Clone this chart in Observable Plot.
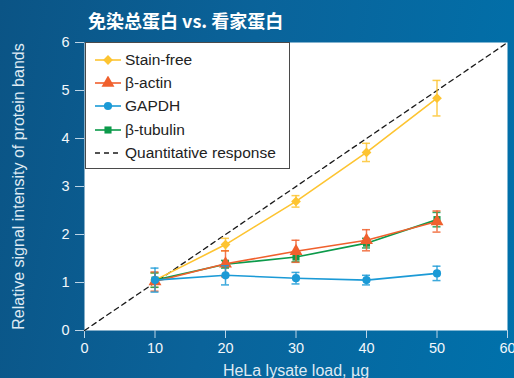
<!DOCTYPE html>
<html>
<head>
<meta charset="utf-8">
<script src="https://cdn.jsdelivr.net/npm/d3@7"></script>
<script src="https://cdn.jsdelivr.net/npm/@observablehq/plot@0.6"></script>
<style>
  body { margin: 0; }
  #chart {
    position: relative;
    width: 514px;
    height: 378px;
    overflow: hidden;
    background: linear-gradient(100deg, #0b5485 0%, #0a639a 45%, #0071ab 100%);
    font-family: "Liberation Sans", Arial, sans-serif;
  }
  #chart > svg { position: absolute; left: 0; top: 0; }
  #title {
    position: absolute;
    left: 88px;
    top: 7px;
    color: #ffffff;
    font: bold 18px "Noto Sans CJK SC", sans-serif;
    white-space: nowrap;
  }
  #legend {
    position: absolute;
    left: 85px;
    top: 42px;
    width: 203px;
    height: 120px;
    background: #ffffff;
    border: 1px solid #4a4a4a;
    padding-top: 5px;
    box-sizing: content-box;
  }
  .row {
    display: flex;
    align-items: center;
    height: 23.3px;
    font-size: 15.5px;
    color: #222;
    white-space: nowrap;
  }
  .row svg { display: block; margin-left: 8px; margin-right: 3px; }
</style>
</head>
<body>
<div id="chart">
  <div id="title"></div>
  <div id="legend"></div>
</div>
<script>
// HeLa lysate loads (µg) and mean relative band intensities with error bars
const loads = [10, 20, 30, 40, 50];

const stainFree = [1.05, 1.79, 2.69, 3.71, 4.84];
const stainFreeErr = [0.15, 0.13, 0.12, 0.19, 0.37];

const betaActin = [1.02, 1.39, 1.65, 1.88, 2.27];
const betaActinErr = [0.2, 0.27, 0.23, 0.22, 0.22];

const gapdh = [1.05, 1.15, 1.09, 1.05, 1.19];
const gapdhErr = [0.25, 0.2, 0.12, 0.1, 0.15];

const betaTubulin = [1.05, 1.38, 1.53, 1.82, 2.31];
const betaTubulinErr = [0.15, 0.08, 0.1, 0.1, 0.15];

// ideal proportional response: signal = load / 10
const responseLoads = [0, 60];
const responseValues = [0, 6];

const xTicks = [0, 10, 20, 30, 40, 50, 60];
const yTicks = [0, 1, 2, 3, 4, 5, 6];

const titleText = "免染总蛋白 vs. 看家蛋白";
const xLabel = "HeLa lysate load, µg";
const yLabel = "Relative signal intensity of protein bands";
const responseName = "Quantitative response";

const seriesNames = ["Stain-free", "β-actin", "GAPDH", "β-tubulin"];
const seriesColors = ["#fdc431", "#f0602d", "#1b9ad6", "#0c9a4a"];
const seriesSymbols = ["diamond2", "triangle", "circle", "square"];
const seriesRadius = [4.4, 4.8, 4.1, 4.0];
const seriesValues = [stainFree, betaActin, gapdh, betaTubulin];
const seriesErrors = [stainFreeErr, betaActinErr, gapdhErr, betaTubulinErr];

// long table: one row per series and load
const rows = seriesNames.flatMap((name, s) =>
  loads.map((x, i) => ({series: name, x, y: seriesValues[s][i], e: seriesErrors[s][i]}))
);
const response = responseLoads.map((x, i) => ({x, y: responseValues[i]}));

// drawing order: stain-free, tubulin, actin, GAPDH on top
const drawOrder = ["Stain-free", "β-tubulin", "β-actin", "GAPDH"];

const seriesMarks = drawOrder.flatMap(name => {
  const k = seriesNames.indexOf(name);
  const d = rows.filter(r => r.series === name);
  const c = seriesColors[k];
  return [
    Plot.line(d, {x: "x", y: "y", stroke: c, strokeWidth: 1.6}),
    Plot.ruleX(d, {x: "x", y1: r => r.y - r.e, y2: r => r.y + r.e, stroke: c, strokeWidth: 1.5, strokeOpacity: 0.85}),
    Plot.ruleY(d, {y: r => r.y + r.e, x1: "x", x2: "x", insetLeft: -4, insetRight: -4, stroke: c, strokeWidth: 1.5, strokeOpacity: 0.85}),
    Plot.ruleY(d, {y: r => r.y - r.e, x1: "x", x2: "x", insetLeft: -4, insetRight: -4, stroke: c, strokeWidth: 1.5, strokeOpacity: 0.85}),
    Plot.dot(d, {x: "x", y: "y", symbol: seriesSymbols[k], r: seriesRadius[k], fill: c, stroke: "none"})
  ];
});

const plot = Plot.plot({
  width: 514,
  height: 378,
  marginLeft: 84,
  marginRight: 7,
  marginTop: 42,
  marginBottom: 48,
  style: {background: "transparent", fontFamily: "'Liberation Sans', Arial, sans-serif"},
  x: {domain: [0, 60]},
  y: {domain: [0, 6]},
  marks: [
    Plot.frame({fill: "#ffffff", stroke: null}),
    Plot.axisX({ticks: xTicks, tickFormat: d3.format("d"), tickSize: 8, tickPadding: 4, stroke: "#bcd4e6", fill: "#f2f7fb", fontSize: 14.5, label: null}),
    Plot.axisY({ticks: yTicks, tickFormat: d3.format("d"), tickSize: 9, tickPadding: 6, stroke: "#bcd4e6", fill: "#f2f7fb", fontSize: 14.5, label: null}),
    Plot.text([xLabel], {text: d => d, frameAnchor: "bottom", dy: 40, lineAnchor: "middle", fontSize: 16, fill: "#dfeaf3"}),
    Plot.text([yLabel], {text: d => d, frameAnchor: "left", dx: -66, rotate: -90, textAnchor: "middle", lineAnchor: "middle", fontSize: 16, fill: "#dfeaf3"}),
    Plot.line(response, {x: "x", y: "y", stroke: "#1a1a1a", strokeWidth: 1.3, strokeDasharray: "5,4"}),
    ...seriesMarks
  ]
});

const chart = document.getElementById("chart");
chart.insertBefore(plot, chart.firstChild);
document.getElementById("title").textContent = titleText;

// legend entries: line sample with marker, then name
const legend = document.getElementById("legend");
const ns = "http://www.w3.org/2000/svg";
function addRow(label, draw) {
  const row = document.createElement("div");
  row.className = "row";
  const svg = document.createElementNS(ns, "svg");
  svg.setAttribute("width", 28);
  svg.setAttribute("height", 14);
  draw(d3.select(svg));
  row.appendChild(svg);
  const span = document.createElement("span");
  span.textContent = label;
  row.appendChild(span);
  legend.appendChild(row);
}
seriesNames.forEach((name, k) => {
  addRow(name, g => {
    g.append("line").attr("x1", 1).attr("x2", 27).attr("y1", 7).attr("y2", 7)
      .attr("stroke", seriesColors[k]).attr("stroke-width", 1.6);
    const sym = {diamond2: d3.symbolDiamond2, triangle: d3.symbolTriangle, circle: d3.symbolCircle, square: d3.symbolSquare}[seriesSymbols[k]];
    const r = seriesRadius[k];
    g.append("path").attr("transform", "translate(14,7)")
      .attr("d", d3.symbol(sym, Math.PI * r * r)()).attr("fill", seriesColors[k]);
  });
});
addRow(responseName, g => {
  g.append("line").attr("x1", 1).attr("x2", 27).attr("y1", 7).attr("y2", 7)
    .attr("stroke", "#1a1a1a").attr("stroke-width", 1.3).attr("stroke-dasharray", "5,4");
});
</script>
</body>
</html>
